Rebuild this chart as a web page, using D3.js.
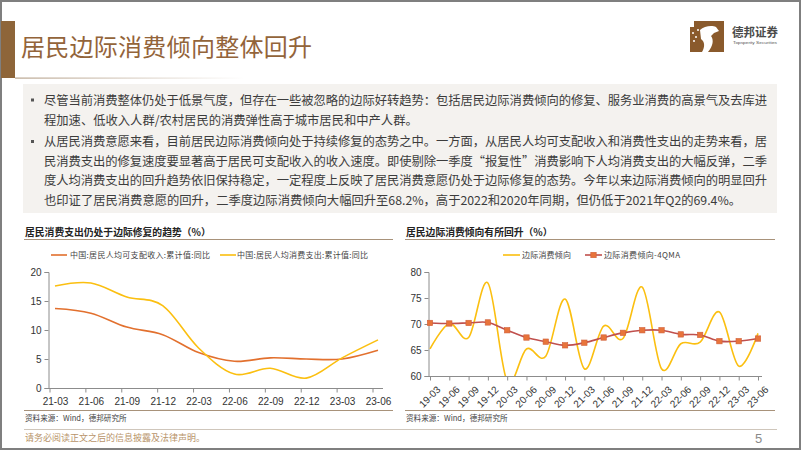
<!DOCTYPE html>
<html><head><meta charset="utf-8">
<script src="https://cdn.jsdelivr.net/npm/d3@7"></script>
<style>
html,body{margin:0;padding:0;background:#fff;}
svg{display:block;}
text{font-family:"Noto Sans CJK SC","Liberation Sans",sans-serif;}
.num{font-family:"Liberation Sans",Arial,sans-serif;}
</style></head>
<body>
<svg id="c" width="802" height="451"></svg>
<script>
// ---------- data ----------
const titleText = "居民边际消费倾向整体回升";
const bodyLines = [
  "尽管当前消费整体仍处于低景气度，但存在一些被忽略的边际好转趋势：包括居民边际消费倾向的修复、服务业消费的高景气及去库进",
  "程加速、低收入人群/农村居民的消费弹性高于城市居民和中产人群。",
  "从居民消费意愿来看，目前居民边际消费倾向处于持续修复的态势之中。一方面，从居民人均可支配收入和消费性支出的走势来看，居",
  "民消费支出的修复速度要显著高于居民可支配收入的收入速度。即使剔除一季度“报复性”消费影响下人均消费支出的大幅反弹，二季",
  "度人均消费支出的回升趋势依旧保持稳定，一定程度上反映了居民消费意愿仍处于边际修复的态势。今年以来边际消费倾向的明显回升",
  "也印证了居民消费意愿的回升，二季度边际消费倾向大幅回升至68.2%，高于2022和2020年同期，但仍低于2021年Q2的69.4%。"
];
const bulletLines = [0, 2];
const justifiedLines = [0, 2, 3, 4];

const leftTitle = "居民消费支出仍处于边际修复的趋势（%）";
const leftCats = ["21-03","21-06","21-09","21-12","22-03","22-06","22-09","22-12","23-03","23-06"];
const leftSeriesNames = ["中国:居民人均可支配收入:累计值:同比","中国:居民人均消费支出:累计值:同比"];
const incomeYoY = [13.7, 12.9, 10.5, 9.2, 6.1, 4.6, 5.2, 5.0, 5.0, 6.5];
const consumeYoY = [17.6, 18.1, 15.7, 14.2, 6.9, 2.4, 3.4, 1.7, 5.2, 8.3];
const leftTicks = [0, 5, 10, 15, 20];

const rightTitle = "居民边际消费倾向有所回升（%）";
const rightCats = ["19-03","19-06","19-09","19-12","20-03","20-06","20-09","20-12","21-03","21-06","21-09","21-12","22-03","22-06","22-09","22-12","23-03","23-06"];
const rightSeriesNames = ["边际消费倾向","边际消费倾向-4QMA"];
const mpc = [65.2, 70.1, 67.4, 77.9, 59.0, 65.2, 63.8, 74.8, 61.4, 69.6, 67.2, 77.1, 61.4, 66.2, 66.5, 72.3, 61.9, 68.2];
const mpcMA = [70.2, 70.1, 70.2, 70.3, 68.8, 67.4, 66.6, 65.9, 66.4, 67.4, 68.3, 68.8, 68.8, 68.0, 67.9, 66.7, 66.7, 67.2];
const rightTicks = [60, 65, 70, 75, 80];

const sourceText = "资料来源：Wind，德邦研究所";
const footerText = "请务必阅读正文之后的信息披露及法律声明。";
const pageNum = "5";

// ---------- drawing ----------
const svg = d3.select("#c");
const brown = "#8e6539";
const lineTan = "#a8927a";

// page frame
svg.append("rect").attr("x",1).attr("y",1).attr("width",799).attr("height",448)
  .attr("fill","none").attr("stroke","#7f7f7f").attr("stroke-width",2);

// title bar
svg.append("rect").attr("x",1).attr("y",21).attr("width",14).attr("height",57).attr("fill",brown);
const defs = svg.append("defs");
const g1 = defs.append("linearGradient").attr("id","fade");
g1.append("stop").attr("offset","0%").attr("stop-color","#b8a48e");
g1.append("stop").attr("offset","100%").attr("stop-color","#ffffff");
svg.append("rect").attr("x",15).attr("y",77.5).attr("width",230).attr("height",1.2).attr("fill","url(#fade)");
svg.append("text").attr("x",21).attr("y",56).attr("font-size",24).attr("fill","#93643a")
  .attr("textLength",291).attr("lengthAdjust","spacing").text(titleText);

// logo
const logo = svg.append("g");
logo.append("rect").attr("x",690).attr("y",21).attr("width",34).attr("height",31).attr("fill","#8a5a2c");
logo.append("path").attr("d","M700,30 C704,26 712,25 716,27 L719,31 L714,33 L711,36 C714,40 713,46 708,52 L702,52 C705,47 705,42 701,39 Z").attr("fill","#fff");
[[693,33],[696,37],[694,41],[698,30]].forEach(p=>logo.append("circle").attr("cx",p[0]).attr("cy",p[1]).attr("r",1).attr("fill","#fff"));
logo.append("rect").attr("x",690).attr("y",21).attr("width",4).attr("height",6).attr("fill","#fff");
logo.append("text").attr("x",732).attr("y",36.5).attr("font-size",12).attr("font-weight","bold").attr("fill","#4a4a4a")
  .attr("textLength",46).attr("lengthAdjust","spacingAndGlyphs").text("德邦证券");
logo.append("text").attr("class","num").attr("x",733).attr("y",43.5).attr("font-size",4).attr("fill","#555")
  .attr("textLength",44).attr("lengthAdjust","spacingAndGlyphs").text("Topsperity Securities");

// text box
svg.append("rect").attr("x",23).attr("y",84).attr("width",754).attr("height",129).attr("fill","#f4f2ef");
const lineCenters = [100, 120.5, 141.5, 161.5, 180.5, 200];
bodyLines.forEach((t,i)=>{
  const tx = svg.append("text").attr("x",44).attr("y",lineCenters[i]+4.5).attr("font-size",12.3).attr("fill","#3c3c3c").text(t);
  if (justifiedLines.includes(i)) tx.attr("textLength",723).attr("lengthAdjust","spacing");
  if (bulletLines.includes(i)) svg.append("rect").attr("x",31).attr("y",lineCenters[i]-1.5).attr("width",3).attr("height",3).attr("fill","#555");
});

// section titles and rules
function section(x0, x1, title){
  svg.append("text").attr("x",x0+1).attr("y",236).attr("font-size",9.8).attr("font-weight","bold").attr("fill","#222").text(title);
  svg.append("line").attr("x1",x0).attr("x2",x1).attr("y1",239.5).attr("y2",239.5).attr("stroke",lineTan).attr("stroke-width",1);
  svg.append("line").attr("x1",x0).attr("x2",x1).attr("y1",410.5).attr("y2",410.5).attr("stroke",lineTan).attr("stroke-width",1);
  svg.append("text").attr("x",x0+1).attr("y",420.5).attr("font-size",7.6).attr("fill","#444").text(sourceText);
}
section(24, 393, leftTitle);
section(405, 775, rightTitle);

// footer
svg.append("line").attr("x1",24).attr("x2",777).attr("y1",429.5).attr("y2",429.5).attr("stroke","#cfc6bb").attr("stroke-width",1);
svg.append("text").attr("x",25).attr("y",441).attr("font-size",9).attr("fill","#b8946a").text(footerText);
svg.append("text").attr("class","num").attr("x",755).attr("y",443).attr("font-size",13).attr("fill","#8a8a8a").text(pageNum);

// ---------- left chart ----------
const orange = "#e2702e", yellow = "#fbbf10";
const xL = d3.scalePoint().domain(leftCats).range([55, 378]);
const yL = d3.scaleLinear().domain([0, 20]).range([388, 272]);
const gL = svg.append("g");
const axY = gL.append("g").attr("transform","translate(48.5,0)")
  .call(d3.axisLeft(yL).tickValues(leftTicks).tickSize(4).tickPadding(3));
const axX = gL.append("g").attr("transform","translate(0,388.5)")
  .call(d3.axisBottom(xL).tickSize(0).tickPadding(9));
[axY, axX].forEach(a=>{
  a.select(".domain").attr("stroke","#8c8c8c");
  a.selectAll(".tick line").attr("stroke","#8c8c8c");
  a.selectAll("text").attr("class","num").attr("font-size",10).attr("fill","#333");
});
axX.select(".domain").attr("d","M48,0H383");
gL.selectAll(".xt").data(leftCats).join("line").attr("class","xt")
  .attr("x1",d=>xL(d)-5).attr("x2",d=>xL(d)-5).attr("y1",388.5).attr("y2",392.5).attr("stroke","#8c8c8c");
const lineL = d3.line().x((d,i)=>xL(leftCats[i])).y(d=>yL(d)).curve(d3.curveCardinal.tension(0));
gL.append("path").attr("d",lineL(incomeYoY)).attr("fill","none").attr("stroke",orange).attr("stroke-width",1.6);
gL.append("path").attr("d",lineL(consumeYoY)).attr("fill","none").attr("stroke",yellow).attr("stroke-width",1.6);
// legend
const legL = [[51,70,orange],[220,237,yellow]];
leftSeriesNames.forEach((n,i)=>{
  gL.append("line").attr("x1",legL[i][0]).attr("x2",legL[i][0]+16).attr("y1",255).attr("y2",255).attr("stroke",legL[i][2]).attr("stroke-width",1.6);
  gL.append("text").attr("x",legL[i][1]).attr("y",258).attr("font-size",8).attr("fill","#444")
    .attr("textLength",i===0?140:131).attr("lengthAdjust","spacing").text(n);
});

// ---------- right chart ----------
const red = "#c0504d", mark = "#e8743b";
const xR = d3.scalePoint().domain(rightCats).range([430, 758]);
const yR = d3.scaleLinear().domain([60, 80]).range([376, 272]);
const gR = svg.append("g");
defs.append("clipPath").attr("id","clipR").append("rect").attr("x",428).attr("y",255).attr("width",340).attr("height",121);
const ayR = gR.append("g").attr("transform","translate(428.5,0)")
  .call(d3.axisLeft(yR).tickValues(rightTicks).tickSize(4).tickPadding(3));
const axR = gR.append("g").attr("transform","translate(0,376.5)")
  .call(d3.axisBottom(xR).tickSize(4).tickPadding(2));
[ayR, axR].forEach(a=>{
  a.select(".domain").attr("stroke","#8c8c8c");
  a.selectAll(".tick line").attr("stroke","#8c8c8c");
  a.selectAll("text").attr("class","num").attr("font-size",10).attr("fill","#333");
});
axR.select(".domain").attr("d","M428,0H762");
axR.selectAll(".tick text").attr("text-anchor","end").attr("dy","0.35em")
  .attr("transform","translate(4,7) rotate(-45)");
const lineR = d3.line().x((d,i)=>xR(rightCats[i])).y(d=>yR(d)).curve(d3.curveCardinal.tension(0));
gR.append("path").attr("d",lineR(mpc)).attr("clip-path","url(#clipR)").attr("fill","none").attr("stroke",yellow).attr("stroke-width",1.6);
gR.append("path").attr("d",lineR(mpcMA)).attr("fill","none").attr("stroke",red).attr("stroke-width",1.6);
gR.selectAll(".mk").data(mpcMA).join("rect").attr("class","mk")
  .attr("x",(d,i)=>xR(rightCats[i])-2.7).attr("y",d=>yR(d)-2.7).attr("width",5.4).attr("height",5.4)
  .attr("fill",mark).attr("stroke","#d0603a").attr("stroke-width",0.6);
// legend
gR.append("line").attr("x1",503).attr("x2",520).attr("y1",255).attr("y2",255).attr("stroke",yellow).attr("stroke-width",1.6);
gR.append("text").attr("x",522).attr("y",258).attr("font-size",8).attr("fill","#444").attr("textLength",49).attr("lengthAdjust","spacing").text(rightSeriesNames[0]);
gR.append("line").attr("x1",585).attr("x2",602).attr("y1",255).attr("y2",255).attr("stroke",red).attr("stroke-width",1.6);
gR.append("rect").attr("x",590.8).attr("y",252.3).attr("width",5.4).attr("height",5.4).attr("fill",mark).attr("stroke","#d0603a").attr("stroke-width",0.6);
gR.append("text").attr("x",604).attr("y",258).attr("font-size",8).attr("fill","#444").attr("textLength",76).attr("lengthAdjust","spacing").text(rightSeriesNames[1]);
</script>
</body></html>
